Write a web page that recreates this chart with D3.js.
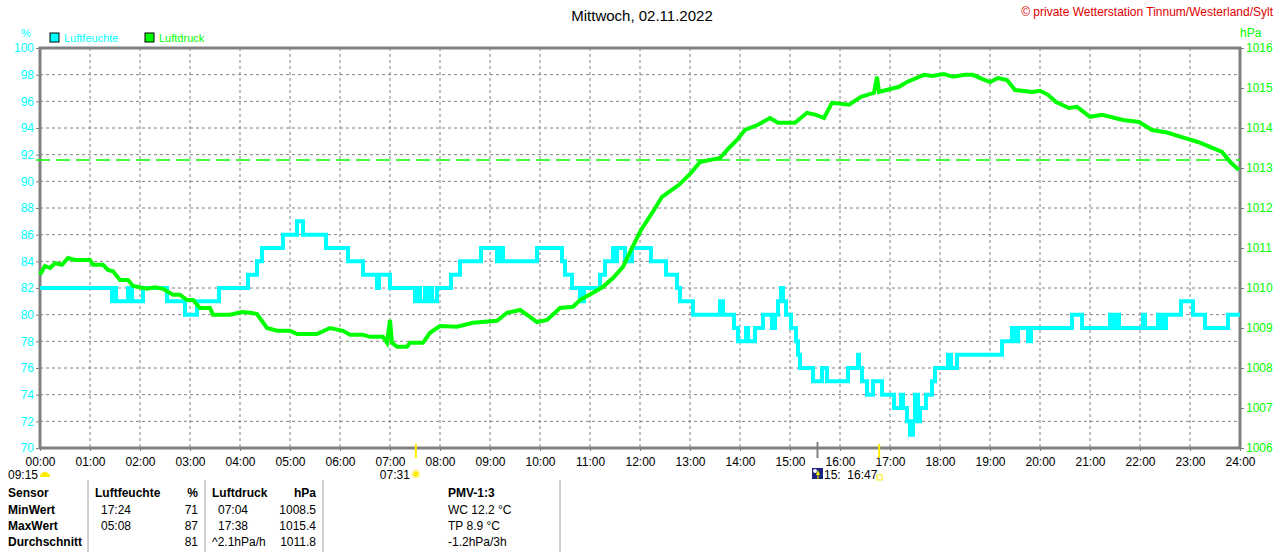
<!DOCTYPE html>
<html>
<head>
<meta charset="utf-8">
<script src="https://cdn.jsdelivr.net/npm/d3@7"></script>
<style>
  body { margin: 0; background: #fff; }
  svg { display: block; font-family: "Liberation Sans", Arial, sans-serif; }
</style>
</head>
<body>
<div id="wrapper"></div>
<script>
// Luftfeuchte (%) als Stufen: [Stunde, Wert]
const humidity = [
  [0,82],[1.44,81],[1.48,82],[1.52,81],[1.76,82],[1.84,81],[2.06,82],[2.54,81],[2.9,80],[3.14,81],
  [3.58,82],[4.16,83],[4.34,84],[4.44,85],[4.86,86],[5.14,87],[5.26,86],[5.72,85],[6.16,84],[6.46,83],
  [6.74,82],[6.78,83],[7.0,82],[7.5,81],[7.56,82],[7.6,81],[7.7,82],[7.74,81],[7.8,82],[7.84,81],
  [7.94,82],[8.22,83],[8.4,84],[8.82,85],[9.14,84],[9.2,85],[9.26,84],[9.94,85],[10.44,84],[10.5,83],
  [10.64,82],[10.8,81],[10.88,82],[11.2,83],[11.3,84],[11.46,85],[11.5,84],[11.54,85],[11.7,84],[11.84,85],
  [12.22,84],[12.52,83],[12.74,82],[12.8,81],[13.06,80],[13.6,81],[13.66,80],[13.88,79],[13.96,78],[14.12,79],
  [14.16,78],[14.3,79],[14.46,80],[14.64,79],[14.7,80],[14.76,81],[14.82,82],[14.86,81],[14.92,80],[15.02,79],
  [15.12,78],[15.16,77],[15.2,76],[15.46,75],[15.64,76],[15.74,75],[16.16,76],[16.36,77],[16.38,76],[16.44,75],
  [16.54,74],[16.66,75],[16.84,74],[17.08,73],[17.22,74],[17.26,73],[17.34,72],[17.4,71],[17.46,72],[17.5,74],
  [17.56,72],[17.6,73],[17.72,74],[17.84,75],[17.9,76],[18.16,77],[18.22,76],[18.34,77],[19.24,78],[19.44,79],
  [19.52,78],[19.56,79],[19.76,78],[19.82,79],[20.64,80],[20.84,79],[21.4,80],[21.46,79],[21.54,80],[21.58,79],
  [22.06,80],[22.1,79],[22.36,80],[22.4,79],[22.44,80],[22.48,79],[22.52,80],[22.82,81],[23.06,80],[23.3,79],
  [23.76,80],[24,80]
];

// Luftdruck (hPa): [Stunde, Wert]
const pressure = [
  [0,1010.33],[0.1,1010.55],[0.2,1010.5],[0.3,1010.62],[0.44,1010.58],[0.56,1010.75],[0.7,1010.7],[1.0,1010.7],
  [1.06,1010.58],[1.26,1010.58],[1.36,1010.45],[1.46,1010.42],[1.6,1010.2],[1.76,1010.2],[1.86,1010.05],[2.14,1009.98],
  [2.3,1010.02],[2.46,1009.98],[2.66,1009.83],[2.8,1009.83],[2.94,1009.7],[3.06,1009.7],[3.2,1009.5],[3.4,1009.5],
  [3.46,1009.33],[3.8,1009.33],[4.04,1009.4],[4.2,1009.38],[4.34,1009.35],[4.54,1009.0],[4.74,1008.93],[5.0,1008.93],
  [5.14,1008.85],[5.54,1008.85],[5.8,1009.0],[6.06,1008.93],[6.2,1008.83],[6.46,1008.83],[6.6,1008.78],[6.86,1008.78],
  [6.94,1008.63],[7.0,1009.2],[7.04,1008.63],[7.14,1008.53],[7.34,1008.53],[7.4,1008.63],[7.66,1008.63],[7.8,1008.88],
  [8.0,1009.05],[8.34,1009.03],[8.66,1009.13],[9.14,1009.18],[9.34,1009.38],[9.6,1009.45],[9.8,1009.28],[9.94,1009.15],
  [10.14,1009.2],[10.4,1009.5],[10.66,1009.53],[10.8,1009.7],[11.06,1009.88],[11.26,1010.03],[11.46,1010.25],[11.66,1010.53],
  [11.82,1010.95],[12.02,1011.45],[12.28,1011.95],[12.44,1012.28],[12.78,1012.58],[13.02,1012.88],[13.2,1013.15],[13.6,1013.25],
  [13.78,1013.5],[13.94,1013.7],[14.1,1013.95],[14.36,1014.08],[14.6,1014.25],[14.76,1014.13],[15.1,1014.13],[15.34,1014.38],
  [15.52,1014.33],[15.68,1014.25],[15.84,1014.63],[16.18,1014.58],[16.42,1014.78],[16.68,1014.88],[16.74,1015.28],[16.78,1014.9],
  [17.18,1015.03],[17.34,1015.15],[17.68,1015.33],[17.84,1015.3],[18.08,1015.35],[18.26,1015.28],[18.5,1015.33],[18.66,1015.33],
  [18.84,1015.23],[19.0,1015.15],[19.16,1015.25],[19.34,1015.2],[19.5,1014.95],[19.84,1014.9],[20.0,1014.93],[20.16,1014.83],
  [20.32,1014.65],[20.58,1014.5],[20.74,1014.53],[21.0,1014.28],[21.24,1014.33],[21.66,1014.2],[21.98,1014.15],[22.24,1013.95],
  [22.56,1013.88],[22.82,1013.78],[23.16,1013.65],[23.4,1013.53],[23.64,1013.4],[23.82,1013.13],[23.98,1012.95]
];

const refPressure = 1013.2;
const hourTicks = d3.range(0, 25);
const humTicks = d3.range(70, 101, 2);
const presTicks = d3.range(1006, 1017, 1);

const tableHead = ["Sensor", "Luftfeuchte", "%", "Luftdruck", "hPa"];
const tableRows = [
  ["MinWert", "17:24", "71", "07:04", "1008.5"],
  ["MaxWert", "05:08", "87", "17:38", "1015.4"],
  ["Durchschnitt", "", "81", "^2.1hPa/h", "1011.8"]
];
const pmvLines = ["WC 12.2 °C", "TP 8.9 °C", "-1.2hPa/3h"];

const W = 1280, H = 552;
const m = { top: 48, left: 40, right: 40, bottom: 104 };
const cyan = "#00ffff", green = "#00ff00", grey = "#808080";

const svg = d3.select("#wrapper").append("svg").attr("width", W).attr("height", H);

const x = d3.scaleLinear().domain([0, 24]).range([m.left, W - m.right]);
const yH = d3.scaleLinear().domain([70, 100]).range([H - m.bottom, m.top]);
const yP = d3.scaleLinear().domain([1006, 1016]).range([H - m.bottom, m.top]);

// Gitter
svg.append("g").selectAll("line").data(humTicks.slice(1, -1)).join("line")
  .attr("x1", x(0)).attr("x2", x(24)).attr("y1", d => yH(d)).attr("y2", d => yH(d))
  .attr("stroke", grey).attr("stroke-dasharray", "3,3");
svg.append("g").selectAll("line").data(hourTicks.slice(1, -1)).join("line")
  .attr("x1", d => x(d)).attr("x2", d => x(d)).attr("y1", yH(100)).attr("y2", yH(70))
  .attr("stroke", grey).attr("stroke-dasharray", "3,3");

// Achsen
const axL = svg.append("g").attr("transform", `translate(${x(0)},0)`)
  .call(d3.axisLeft(yH).tickValues(humTicks).tickSize(4).tickPadding(2));
axL.selectAll("text").attr("fill", cyan).style("font-size", "12px");
axL.selectAll(".tick line").attr("stroke", grey);
const axR = svg.append("g").attr("transform", `translate(${x(24)},0)`)
  .call(d3.axisRight(yP).tickValues(presTicks).tickSize(4).tickPadding(2).tickFormat(d3.format("d")));
axR.selectAll("text").attr("fill", green).style("font-size", "12px");
axR.selectAll(".tick line").attr("stroke", grey);
const axB = svg.append("g").attr("transform", `translate(0,${yH(70)})`)
  .call(d3.axisBottom(x).tickValues(hourTicks).tickSize(3).tickPadding(6)
    .tickFormat(d => String(d).padStart(2, "0") + ":00"));
axB.selectAll("text").attr("fill", "#000").style("font-size", "12px");
axB.selectAll(".tick line").attr("stroke", grey);
svg.selectAll(".domain").remove();

// Rahmen
svg.append("path")
  .attr("d", `M${x(0)},${yH(70)}V${yH(100)}H${x(24)}V${yH(70)}Z`)
  .attr("fill", "none").attr("stroke", grey).attr("stroke-width", 3);

// Referenzlinie 1013.2 hPa
svg.append("line")
  .attr("x1", x(0) - 4).attr("x2", x(24)).attr("y1", yP(refPressure)).attr("y2", yP(refPressure))
  .attr("stroke", green).attr("stroke-width", 1.5).attr("stroke-dasharray", "14,6");

// Linien
const humLine = d3.line().curve(d3.curveStepAfter).x(d => x(d[0])).y(d => yH(d[1]));
svg.append("path").attr("d", humLine(humidity))
  .attr("fill", "none").attr("stroke", cyan).attr("stroke-width", 4);

const presLine = d3.line().x(d => x(d[0])).y(d => yP(d[1]));
svg.append("path").attr("d", presLine(pressure))
  .attr("fill", "none").attr("stroke", green).attr("stroke-width", 4);

// Titel
svg.append("text").attr("x", 642).attr("y", 21).attr("text-anchor", "middle")
  .style("font-size", "15px").text("Mittwoch, 02.11.2022");
svg.append("text").attr("x", 1273).attr("y", 16).attr("text-anchor", "end")
  .attr("fill", "#e00000").style("font-size", "12px")
  .text("© private Wetterstation Tinnum/Westerland/Sylt");

// Einheiten + Legende
svg.append("text").attr("x", 26).attr("y", 37).attr("text-anchor", "middle")
  .attr("fill", cyan).style("font-size", "11px").text("%");
svg.append("text").attr("x", 1240).attr("y", 37)
  .attr("fill", green).style("font-size", "12px").text("hPa");
const legend = [["Luftfeuchte", cyan, 50], ["Luftdruck", green, 145]];
legend.forEach(([name, col, lx]) => {
  svg.append("rect").attr("x", lx).attr("y", 33).attr("width", 9).attr("height", 9)
    .attr("fill", col).attr("stroke", "#000");
  svg.append("text").attr("x", lx + 14).attr("y", 42).attr("fill", col)
    .style("font-size", "11px").text(name);
});

// Sonne / Mond
const sunY = 479;
svg.append("text").attr("x", 8).attr("y", sunY).style("font-size", "12px").text("09:15");
svg.append("path").attr("d", "M40,477 A5,5 0 0 1 50,477 Z").attr("fill", "#ffee00");
svg.append("line").attr("x1", x(7.517)).attr("x2", x(7.517)).attr("y1", 444).attr("y2", 458)
  .attr("stroke", "#ffee00").attr("stroke-width", 2);
svg.append("text").attr("x", x(7.517) - 6).attr("y", sunY).attr("text-anchor", "end")
  .style("font-size", "12px").text("07:31");
svg.append("circle").attr("cx", x(7.517)).attr("cy", 474).attr("r", 3.5).attr("fill", "#ffee00")
  .attr("stroke", "#fff5a0").attr("stroke-width", 2);
svg.append("line").attr("x1", x(15.55)).attr("x2", x(15.55)).attr("y1", 442).attr("y2", 458)
  .attr("stroke", grey).attr("stroke-width", 2);
svg.append("rect").attr("x", 812).attr("y", 468).attr("width", 11).attr("height", 11).attr("fill", "#1a237e");
svg.append("path").attr("d", "M818,470 L820,475 L816,475 Z M817.5,475 h1 v4 h-1 Z").attr("fill", "#ffee00");
svg.append("circle").attr("cx", 815).attr("cy", 471).attr("r", 2).attr("fill", "#fff");
svg.append("text").attr("x", 824).attr("y", sunY).style("font-size", "12px").style("white-space", "pre")
  .text("15:  16:47");
svg.append("line").attr("x1", x(16.783)).attr("x2", x(16.783)).attr("y1", 444).attr("y2", 458)
  .attr("stroke", "#ffee00").attr("stroke-width", 2);
svg.append("rect").attr("x", 877).attr("y", 475).attr("width", 5).attr("height", 5)
  .attr("fill", "none").attr("stroke", "#ffee00");

// Tabelle
const rowY = [497, 514, 530, 546];
const colX = [8, 95, 198, 212, 316];
const colAnchor = ["start", "start", "end", "start", "end"];
tableHead.forEach((t, i) => {
  svg.append("text").attr("x", colX[i]).attr("y", rowY[0]).attr("text-anchor", colAnchor[i])
    .style("font-size", "12px").style("font-weight", "bold").text(t);
});
tableRows.forEach((row, r) => {
  row.forEach((t, i) => {
    const xx = (i === 1 || (i === 3 && r < 2)) ? colX[i] + 6 : colX[i];
    svg.append("text").attr("x", xx).attr("y", rowY[r + 1]).attr("text-anchor", colAnchor[i])
      .style("font-size", "12px").style("font-weight", i === 0 ? "bold" : "normal").text(t);
  });
});
svg.append("text").attr("x", 448).attr("y", rowY[0]).style("font-size", "12px")
  .style("font-weight", "bold").text("PMV-1:3");
pmvLines.forEach((t, i) => {
  svg.append("text").attr("x", 448).attr("y", rowY[i + 1]).style("font-size", "12px").text(t);
});
[88, 205, 323, 560].forEach(dx => {
  svg.append("line").attr("x1", dx).attr("x2", dx).attr("y1", 480).attr("y2", 552)
    .attr("stroke", "#a0a0a0").attr("stroke-width", 1);
});
</script>
</body>
</html>
